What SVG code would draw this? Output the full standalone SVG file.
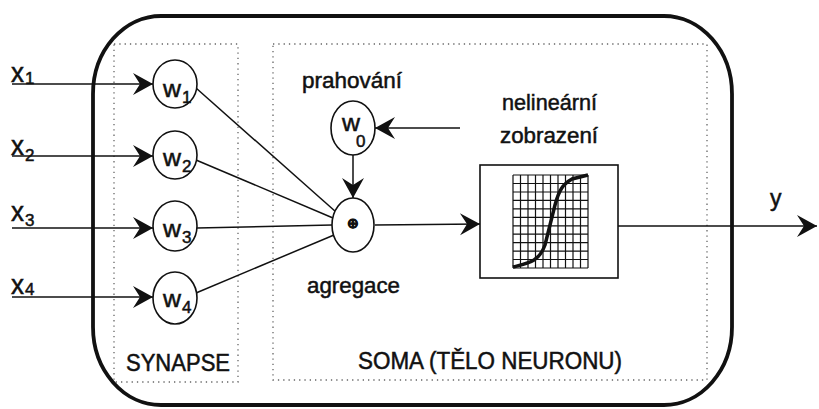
<svg xmlns="http://www.w3.org/2000/svg" width="819" height="409" viewBox="0 0 819 409">
<style>
text{font-family:"Liberation Sans",Arial,sans-serif;fill:#111;stroke:#111;stroke-width:0.5}
.lbl{font-size:22px}
.big{font-size:23px}
.sub{font-size:17px}
.node{fill:#fff;stroke:#111;stroke-width:1.6}
.con{fill:none;stroke:#111;stroke-width:1.5}
.dot{fill:none;stroke:#666;stroke-width:1.3;stroke-dasharray:1.3 4}
.grid{stroke:#111;stroke-width:1.2}
</style>
<defs>
<marker id="ah" markerUnits="userSpaceOnUse" markerWidth="24" markerHeight="26" viewBox="-22 -13 24 26" refX="0" refY="0" orient="auto">
<path d="M0,0 L-20,-11 L-13,0 L-20,11 Z" fill="#111"/>
</marker>
</defs>
<rect fill="#fff" x="0" y="0" width="819" height="409"/>
<g id="body">
<rect x="93" y="16" width="639" height="389" rx="68" ry="78" fill="none" stroke="#111" stroke-width="3.8"/>
</g>
<g id="synapse">
<rect class="dot" x="114" y="44" width="124" height="338"/>
<text class="big" x="126" y="371" textLength="104" lengthAdjust="spacingAndGlyphs">SYNAPSE</text>
</g>
<g id="soma">
<rect class="dot" x="273" y="44" width="434" height="336"/>
<text class="big" x="358" y="369" textLength="264" lengthAdjust="spacingAndGlyphs">SOMA (TĚLO NEURONU)</text>
</g>
<g id="connectors">
<line class="con" x1="12" y1="84" x2="153" y2="84" marker-end="url(#ah)"/>
<line class="con" x1="12" y1="156" x2="153" y2="156" marker-end="url(#ah)"/>
<line class="con" x1="12" y1="228" x2="153" y2="228" marker-end="url(#ah)"/>
<line class="con" x1="12" y1="297" x2="153" y2="297" marker-end="url(#ah)"/>
<line class="con" x1="196" y1="88" x2="336" y2="212"/>
<line class="con" x1="196" y1="160" x2="333" y2="218"/>
<line class="con" x1="197" y1="228" x2="332" y2="225"/>
<line class="con" x1="196" y1="293" x2="334" y2="235"/>
<line class="con" x1="460" y1="128" x2="375" y2="128" marker-end="url(#ah)"/>
<line class="con" x1="353" y1="155" x2="353" y2="198" marker-end="url(#ah)"/>
<line class="con" x1="375" y1="225" x2="480" y2="224" marker-end="url(#ah)"/>
<line class="con" x1="618" y1="226" x2="817" y2="226" marker-end="url(#ah)"/>
</g>
<g id="inputs">
<text x="11" y="82" font-size="27" textLength="13" lengthAdjust="spacingAndGlyphs">x</text><text class="sub" x="25" y="84">1</text>
<text x="11" y="155" font-size="27" textLength="13" lengthAdjust="spacingAndGlyphs">x</text><text class="sub" x="25" y="161">2</text>
<text x="11" y="221" font-size="27" textLength="13" lengthAdjust="spacingAndGlyphs">x</text><text class="sub" x="25" y="226">3</text>
<text x="11" y="294" font-size="27" textLength="13" lengthAdjust="spacingAndGlyphs">x</text><text class="sub" x="25" y="295">4</text>
</g>
<g id="w1"><ellipse class="node" cx="175" cy="84" rx="22" ry="24"/><text class="big" x="163" y="97" textLength="18" lengthAdjust="spacingAndGlyphs">w</text><text class="sub" x="182" y="103">1</text></g>
<g id="w2"><ellipse class="node" cx="175" cy="155" rx="22" ry="24"/><text class="big" x="163" y="166" textLength="18" lengthAdjust="spacingAndGlyphs">w</text><text class="sub" x="182" y="172">2</text></g>
<g id="w3"><ellipse class="node" cx="175" cy="226" rx="22" ry="25"/><text class="big" x="163" y="237" textLength="18" lengthAdjust="spacingAndGlyphs">w</text><text class="sub" x="182" y="243">3</text></g>
<g id="w4"><ellipse class="node" cx="175" cy="298" rx="22" ry="26"/><text class="big" x="163" y="307" textLength="18" lengthAdjust="spacingAndGlyphs">w</text><text class="sub" x="182" y="313">4</text></g>
<g id="w0">
<ellipse class="node" cx="353" cy="128" rx="22" ry="27"/>
<text class="big" x="342" y="131" textLength="18" lengthAdjust="spacingAndGlyphs">w</text><text class="sub" x="356" y="147" font-size="19">0</text>
<text class="lbl" x="302" y="88" textLength="100" lengthAdjust="spacingAndGlyphs">prahování</text>
</g>
<g id="sum">
<ellipse class="node" cx="353" cy="225" rx="21" ry="27"/>
<text x="353" y="228" font-size="14" font-weight="bold" text-anchor="middle">⊕</text>
<text class="lbl" x="307" y="293" textLength="93" lengthAdjust="spacingAndGlyphs">agregace</text>
</g>
<g id="activation">
<text class="lbl" x="502" y="110" textLength="95" lengthAdjust="spacingAndGlyphs">nelineární</text>
<text class="lbl" x="500" y="143" textLength="98" lengthAdjust="spacingAndGlyphs">zobrazení</text>
<rect x="480" y="165" width="138" height="113" fill="#fff" stroke="#111" stroke-width="1.6"/>
<g class="grid">
<path d="M513,175V268M520.5,175V268M528,175V268M535.5,175V268M543,175V268M550.5,175V268M558,175V268M565.5,175V268M573,175V268M580.5,175V268M588,175V268"/>
<path d="M513,175H588M513,183.5H588M513,192H588M513,200.4H588M513,208.8H588M513,217.3H588M513,225.8H588M513,234.2H588M513,242.6H588M513,251.1H588M513,259.5H588M513,268H588"/>
</g>
<path d="M513,267 C528,263 539,262 545,245 L555,205 C559,190 563,184 572,179 L588,175" fill="none" stroke="#111" stroke-width="3.5"/>
</g>
<g id="output">
<text class="big" x="770" y="206">y</text>
</g>
</svg>
